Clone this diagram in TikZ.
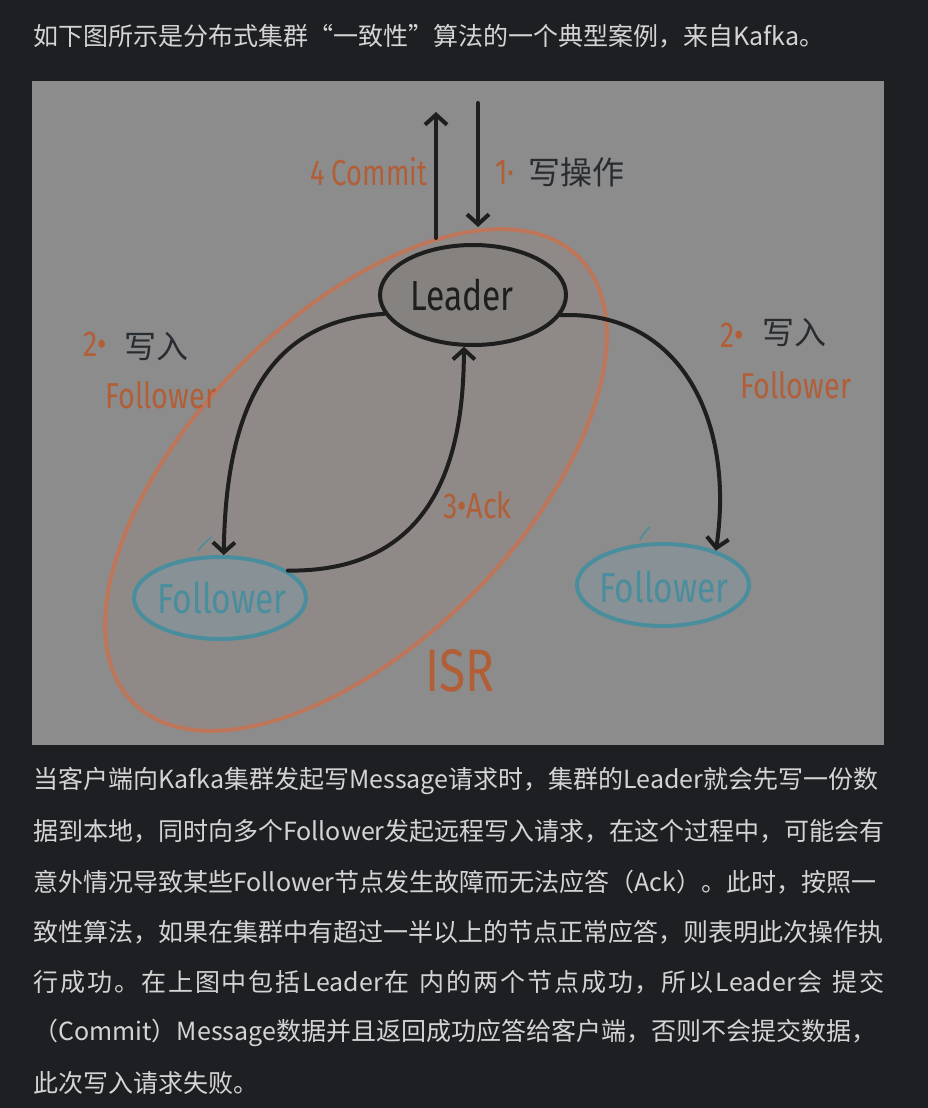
\documentclass[tikz,border=0pt]{standalone}
\usepackage{fontspec}
\usetikzlibrary{shapes.geometric,arrows.meta}
\setmainfont{Noto Sans CJK SC}
\newfontfamily\cjk{Noto Sans CJK SC}
\newfontfamily\handfont{Fira Sans}

\definecolor{pagebg}{RGB}{30,31,34}
\definecolor{bodytext}{RGB}{212,212,212}
\definecolor{panelgray}{RGB}{140,140,140}
\definecolor{isrfill}{RGB}{143,138,136}
\definecolor{isrline}{RGB}{190,118,90}
\definecolor{inkorange}{RGB}{178,94,55}
\definecolor{leaderfill}{RGB}{134,130,127}
\definecolor{folline}{RGB}{74,142,158}
\definecolor{folfill}{RGB}{135,145,150}
\definecolor{inkblack}{RGB}{30,30,30}
\definecolor{inkgray}{RGB}{40,44,48}

\newcommand{\fullline}[1]{\hbox to 851pt{#1\hfil}}
\makeatletter
\newcommand{\spreadline}[1]{\hbox to 851pt{\@tfor\spitem:=#1\do{\spitem\hskip0pt plus 1fil}\unskip}}
\makeatother

\begin{document}
\begin{tikzpicture}[
        x=1pt, y=-1pt,
        font=\cjk
    ]
    \tikzset{
        leaderbox/.style = {ellipse, draw=inkblack, line width=4pt, fill=leaderfill, minimum width=186pt, minimum height=100pt, inner sep=0pt},
        folbox/.style = {ellipse, draw=folline, line width=4pt, fill=folfill, minimum width=172pt, minimum height=82pt, inner sep=0pt},
        isrring/.style = {ellipse, draw=isrline, line width=4pt, fill=isrfill, minimum width=630pt, minimum height=326pt, inner sep=0pt},
        inkarrow/.style = {draw=inkblack, line width=4pt, line cap=round, -{Straight Barb[length=10pt,width=22pt]}},
        handtext/.style = {font=\handfont\fontsize{#1}{#1}\selectfont, inner sep=0pt, xscale=0.8},
        handlabel/.style = {handtext=36, text=inkorange, anchor=west},
        cjklabel/.style = {font=\cjk\fontsize{32}{32}\selectfont, text=inkgray, inner sep=0pt, anchor=west},
        bodyline/.style = {font=\cjk\fontsize{25}{25}\selectfont, text=bodytext, inner sep=0pt, anchor=west},
    }
    \fill[pagebg] (0,0) rectangle (928,1108);
    \useasboundingbox (0,0) rectangle (928,1108);
    \fill[panelgray] (32,81) rectangle (884,745);
    %
    \node[bodyline] (title) at (33,36) {如下图所示是分布式集群“一致性”算法的一个典型案例，来自Kafka。};
    %
    \node[isrring, rotate=45] (isr) at (356,480) {};
    \node[leaderbox] (leader) at (473,295) {};
    \node[handtext=42, text=inkblack] at (462,295) {Leader};
    \node[folbox] (folA) at (220,598) {};
    \node[handtext=42, text=folline] at (222,598) {Follower};
    \node[folbox] (folB) at (663,585) {};
    \node[handtext=42, text=folline] at (664,587) {Follower};
    %
    \draw[folline, line width=1.5pt] (198,551) to[bend left=10] (212,537);
    \draw[folline, line width=1.5pt] (640,540) to[bend left=10] (650,527);
    %
    \coordinate (commitfoot) at (436,238);
    \coordinate (commitend) at (436,112);
    \coordinate (writestart) at (478,103);
    \coordinate (writetip) at (478,227);
    \draw[inkarrow] (commitfoot) -- (commitend);
    \draw[inkarrow] (writestart) -- (writetip);
    \draw[inkarrow] (leader.192) .. controls (280,320) and (226,390) .. (folA.85);
    \draw[inkarrow] (folA.22) .. controls (420,572) and (464,480) .. (leader.260);
    \draw[inkarrow] (leader.347) .. controls (680,310) and (735,420) .. (folB.33);
    %
    \node[handlabel, xscale=0.95] (commitlbl) at (310,172) {4 Commit};
    \node[handlabel] (writenum) at (495,172) {1·};
    \node[cjklabel] (writelbl) at (528,172) {写操作};
    \node[handlabel] (leftnum) at (83,344) {2•};
    \node[cjklabel] (leftlbl) at (124,347) {写入};
    \node[handlabel] (leftfol) at (105,395) {Follower};
    \node[handlabel] (rightnum) at (720,335) {2•};
    \node[cjklabel] (rightlbl) at (762,333) {写入};
    \node[handlabel] (rightfol) at (740,385) {Follower};
    \node[handlabel] (acklbl) at (443,505) {3•Ack};
    \node[handtext=60, text=inkorange, anchor=west] (isrlbl) at (425,671) {ISR};
    %
    \node[bodyline] (body1) at (33,781) {\fullline{当客户端向Kafka集群发起写Message请求时，集群的Leader就会先写一份数}};
    \node[bodyline] (body2) at (33,831) {\fullline{据到本地，同时向多个Follower发起远程写入请求，在这个过程中，可能会有}};
    \node[bodyline] (body3) at (33,882) {\fullline{意外情况导致某些Follower节点发生故障而无法应答（Ack）。此时，按照一}};
    \node[bodyline] (body4) at (33,932) {\fullline{致性算法，如果在集群中有超过一半以上的节点正常应答，则表明此次操作执}};
    \node[bodyline] (body5) at (33,982) {\spreadline{行成功。在上图中包括{Leader}在{\ }内的两个节点成功，所以{Leader}会{\ }提交}};
    \node[bodyline] (body6) at (33,1033) {\fullline{（Commit）Message数据并且返回成功应答给客户端，否则不会提交数据，}};
    \node[bodyline] (body7) at (33,1083) {此次写入请求失败。};
\end{tikzpicture}
\end{document}
